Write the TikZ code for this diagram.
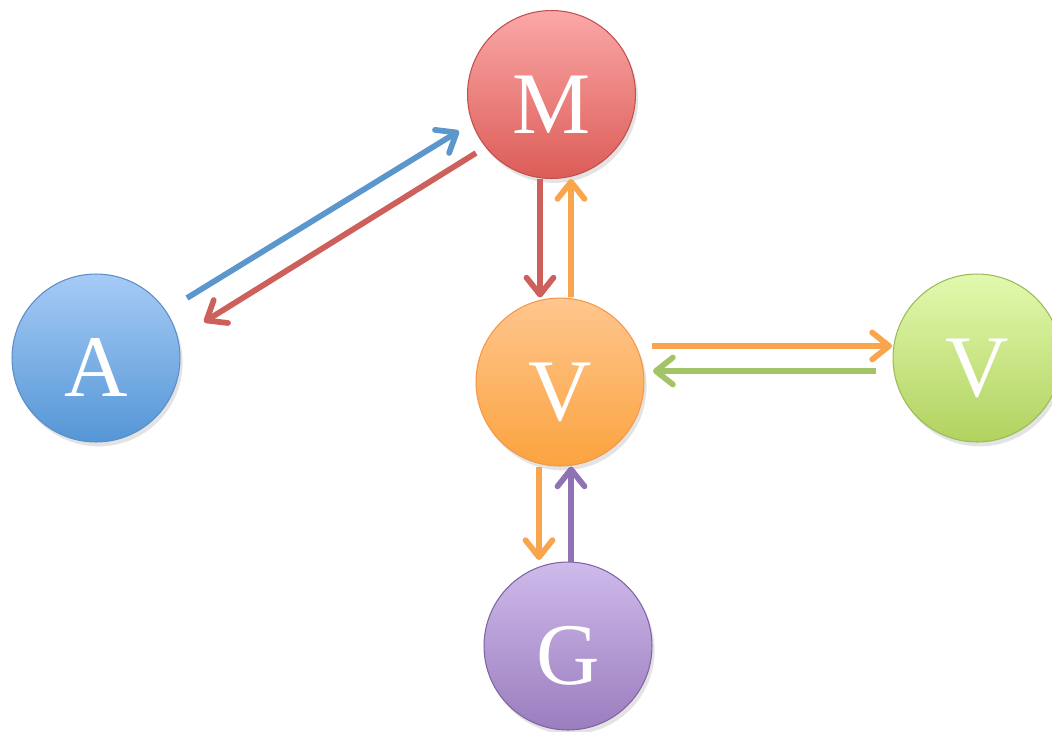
\documentclass[tikz,border=0pt]{standalone}
\usepackage{fontspec}
\setmainfont{Liberation Serif}
\usepackage{xcolor}
\usetikzlibrary{arrows.meta,shadows}
\definecolor{cBlue}{HTML}{5B96CC}
\definecolor{cRed}{HTML}{CD605A}
\definecolor{cOrange}{HTML}{F9A54E}
\definecolor{cGreen}{HTML}{A3C367}
\definecolor{cPurple}{HTML}{8E72B4}

\begin{document}
\begin{tikzpicture}[x=0.02cm, y=-0.02cm,
  ball/.style={circle, draw, line width=0.6pt, minimum size=3.36cm, inner sep=0pt,
    text=white, font=\fontsize{50}{56}\selectfont, text height=15.5mm, text depth=0pt,
    drop shadow={opacity=0.22, shadow xshift=1.5pt, shadow yshift=-2.5pt}},
  e/.style={-{Straight Barb[length=3.4mm, width=5.4mm, round]}, line width=1.15mm}]
\clip (0,0) rectangle (1052,731);
\node[ball, top color={rgb,255:red,166;green,203;blue,246}, bottom color={rgb,255:red,85;green,150;blue,214}, draw={rgb,255:red,91;green,141;blue,200}] (a) at (96,358) {A};
\node[ball, top color={rgb,255:red,251;green,168;blue,167}, bottom color={rgb,255:red,220;green,92;blue,87}, draw={rgb,255:red,192;green,80;blue,77}] (m) at (551.5,94.5) {M};
\node[ball, top color={rgb,255:red,255;green,198;blue,142}, bottom color={rgb,255:red,251;green,163;blue,63}, draw={rgb,255:red,247;green,150;blue,70}] (v) at (560,382) {V};
\node[ball, top color={rgb,255:red,226;green,249;blue,174}, bottom color={rgb,255:red,177;green,210;blue,95}, draw={rgb,255:red,155;green,187;blue,89}] (v2) at (977,358) {V};
\node[ball, top color={rgb,255:red,206;green,186;blue,235}, bottom color={rgb,255:red,155;green,125;blue,190}, draw={rgb,255:red,128;green,100;blue,162}] (g) at (568,646) {G};
% A <-> M
\draw[e, cBlue] ([shift={(91,-60)}]a.center) -- ([shift={(-92.5,36.5)}]m.center);
\draw[e, cRed] ([shift={(-75.5,58.5)}]m.center) -- ([shift={(108,-36)}]a.center);
% M <-> V
\draw[e, cRed] ([xshift=-11.5*0.02cm]m.south) -- ([xshift=-20*0.02cm]v.north);
\draw[e, cOrange] ([xshift=11*0.02cm]v.north) -- ([xshift=19.5*0.02cm]m.south);
% V <-> V
\draw[e, cOrange] ([shift={(92,-36)}]v.center) -- ([shift={(-85,-12)}]v2.center);
\draw[e, cGreen] ([shift={(-101,13)}]v2.center) -- ([shift={(93,-11)}]v.center);
% V <-> G
\draw[e, cOrange] ([xshift=-21*0.02cm]v.south) -- ([shift={(-29,-86)}]g.center);
\draw[e, cPurple] ([xshift=3*0.02cm]g.north) -- ([xshift=11*0.02cm]v.south);
\end{tikzpicture}
\end{document}
